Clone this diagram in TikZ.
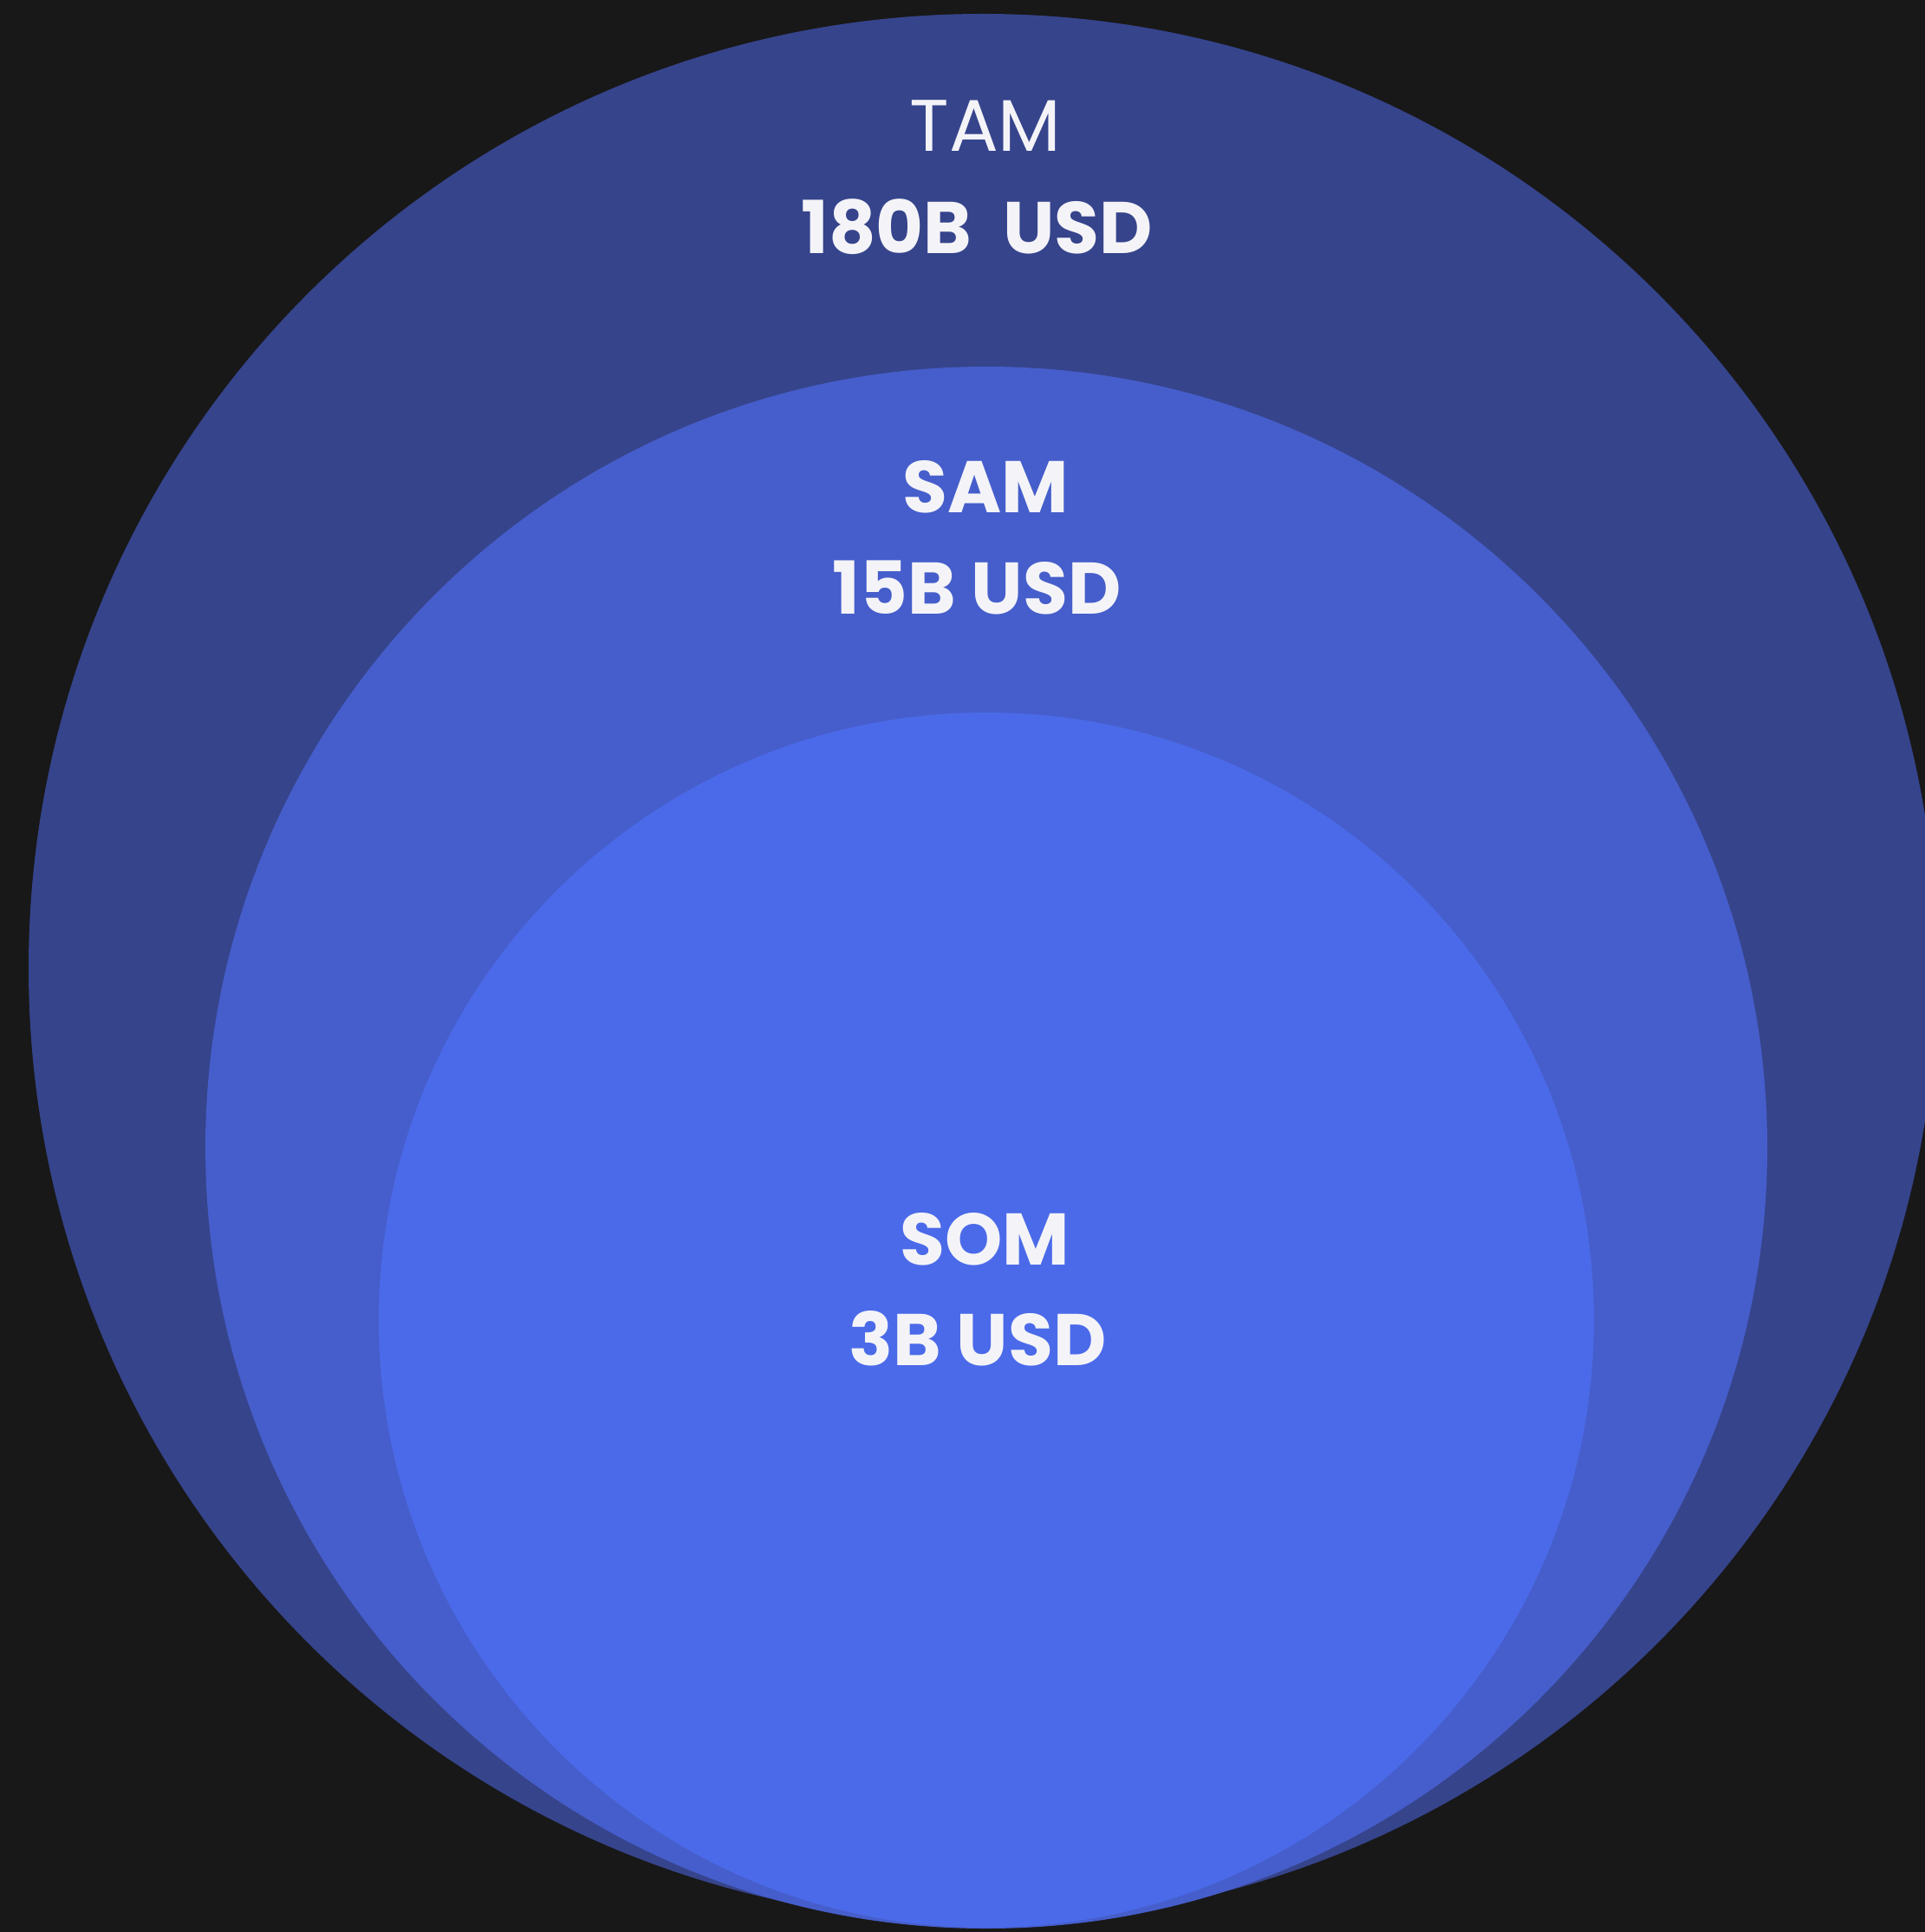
\documentclass[tikz,border=0pt]{standalone}
\usepackage{fontspec}
\setmainfont{Poppins}
\usepackage{tikz}
\usetikzlibrary{positioning}
\usepackage{xcolor}

\definecolor{bgDark}{HTML}{181818}
\definecolor{tamBlue}{HTML}{36448C}
\definecolor{samBlue}{HTML}{465ECB}
\definecolor{somBlue}{HTML}{4B6AE9}
\definecolor{labelWhite}{HTML}{F4F4F8}

\tikzset{
    market/.style={
        circle,
        draw=none,
        inner sep=0pt
    },
    tamCircle/.style={market, fill=tamBlue, minimum size=22.02cm},
    samCircle/.style={market, fill=samBlue, minimum size=18.02cm},
    somCircle/.style={market, fill=somBlue, minimum size=14.02cm},
    nameLabel/.style={
        inner sep=0pt,
        text=labelWhite,
        font=\fontsize{24}{28}\selectfont\bfseries
    },
    valueLabel/.style={
        inner sep=0pt,
        text=labelWhite,
        font=\fontsize{24}{28}\selectfont\bfseries
    }
}

\begin{document}
\begin{tikzpicture}
    % Page and dark background
    \useasboundingbox (0,0) rectangle (22.21,-22.29);
    \fill[bgDark] (0,0) rectangle (22.21,-22.29);

    % Nested market circles, all resting on the bottom edge
    \node[tamCircle] (tam) at (11.34,-11.17) {};
    \node[samCircle] (sam) at (11.38,-13.24) {};
    \node[somCircle] (som) at (11.38,-15.23) {};

    % TAM
    \node[nameLabel, font=\fontsize{24}{28}\selectfont] (tamName) at (11.37,-1.45) {TAM};
    \node[valueLabel] (tamValue) at (11.27,-2.62) {180B\ \ USD};

    % SAM
    \node[nameLabel] (samName) at (11.37,-5.62) {SAM};
    \node[valueLabel] (samValue) at (11.27,-6.78) {15B USD};

    % SOM
    \node[nameLabel] (somName) at (11.36,-14.30) {SOM};
    \node[valueLabel] (somValue) at (11.28,-15.44) {3B USD};

\end{tikzpicture}
\end{document}
